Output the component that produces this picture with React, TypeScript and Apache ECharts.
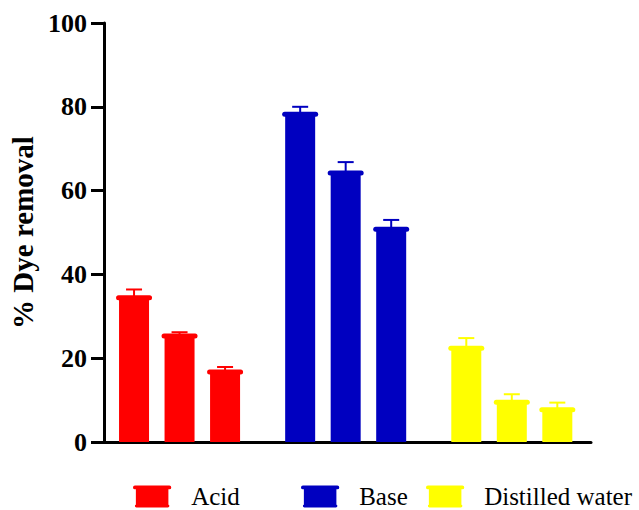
import React, { useEffect, useRef } from "react";
import * as echarts from "echarts";

const groups = ["Acid", "Base", "Distilled water"];
const colors = ["#FF0000", "#0000C0", "#FFFF00"];
const acidValues = [34.4, 25.3, 16.7];
const acidErrors = [2.0, 0.9, 1.2];
const baseValues = [78.2, 64.2, 50.8];
const baseErrors = [1.8, 2.6, 2.2];
const distilledValues = [22.4, 9.5, 7.7];
const distilledErrors = [2.4, 1.9, 1.7];
const yTicks = [0, 20, 40, 60, 80, 100];

const values = [acidValues, baseValues, distilledValues];
const errors = [acidErrors, baseErrors, distilledErrors];

const GROUP_SPAN = 3.65;
const BAR_W = 30;
const FONT = "Liberation Serif";
const ICON =
  "path://M2,0H38Q40,0 40,2Q40,4 38,4H37V20Q38,20 38,21.5Q38,23 36.5,23H3.5Q2,23 2,21.5Q2,20 3,20V4H2Q0,4 0,2Q0,0 2,0Z";

export default function App() {
  const ref = useRef<HTMLDivElement>(null);
  useEffect(() => {
    document.body.style.margin = "0";
    if (!ref.current) return;
    const chart = echarts.init(ref.current, null, { renderer: "svg" });

    const series = groups.map((g, gi) => ({
      name: g,
      type: "custom",
      itemStyle: { color: colors[gi] },
      data: values[gi].map((v, i) => [gi * GROUP_SPAN + i, v, v + errors[gi][i]]),
      renderItem: (params: any, api: any) => {
        const x = api.value(0);
        const v = api.value(1);
        const e = api.value(2);
        const p0 = api.coord([x, 0]);
        const p = api.coord([x, v]);
        const pe = api.coord([x, e]);
        const c = colors[gi];
        return {
          type: "group",
          children: [
            {
              type: "rect",
              shape: { x: p[0] - BAR_W / 2, y: p[1], width: BAR_W, height: p0[1] - p[1] },
              style: { fill: c },
            },
            {
              type: "line",
              shape: { x1: p[0], y1: p[1], x2: p[0], y2: pe[1] },
              style: { stroke: c, lineWidth: 2 },
            },
            {
              type: "line",
              shape: { x1: p[0] - 8, y1: pe[1], x2: p[0] + 8, y2: pe[1] },
              style: { stroke: c, lineWidth: 2 },
            },
            {
              type: "line",
              shape: { x1: p[0] - BAR_W / 2 - 0.5, y1: p[1], x2: p[0] + BAR_W / 2 + 0.5, y2: p[1] },
              style: { stroke: c, lineWidth: 5, lineCap: "round" },
            },
          ],
        };
      },
    }));

    const legendLefts = [133, 301, 426];
    const legends = groups.map((g, gi) => ({
      show: true,
      data: [{ name: g, icon: ICON, itemStyle: { color: colors[gi] } }],
      left: legendLefts[gi],
      top: 484,
      padding: 0,
      itemWidth: 40,
      itemHeight: 22,
      selectedMode: false,
      textStyle: {
        color: "#000",
        fontFamily: FONT,
        fontSize: 25,
        padding: [0, 0, 0, 14],
      },
    }));

    chart.setOption({
      animation: false,
      textStyle: { fontFamily: FONT },
      grid: { left: 104, right: 48, top: 23, bottom: 68, outerBoundsMode: "none", containLabel: false },
      legend: legends,
      xAxis: {
        type: "value",
        min: -0.66,
        max: 10.04,
        axisLine: { show: true, onZero: false, lineStyle: { color: "#000", width: 3 } },
        axisTick: { show: false },
        axisLabel: { show: false },
        splitLine: { show: false },
      },
      yAxis: {
        type: "value",
        min: yTicks[0],
        max: yTicks[yTicks.length - 1],
        interval: 20,
        name: "% Dye removal",
        nameLocation: "middle",
        nameGap: 64,
        nameTextStyle: {
          color: "#000",
          fontFamily: FONT,
          fontSize: 29,
          fontWeight: "bold",
        },
        axisLine: { show: true, onZero: false, lineStyle: { color: "#000", width: 3 } },
        axisTick: { show: true, length: 13, lineStyle: { color: "#000", width: 3 } },
        axisLabel: {
          color: "#000",
          fontFamily: FONT,
          fontSize: 26,
          fontWeight: "bold",
          margin: 17,
        },
        splitLine: { show: false },
      },
      series,
    });
    return () => chart.dispose();
  }, []);
  return <div ref={ref} style={{ width: 639, height: 510 }} />;
}
